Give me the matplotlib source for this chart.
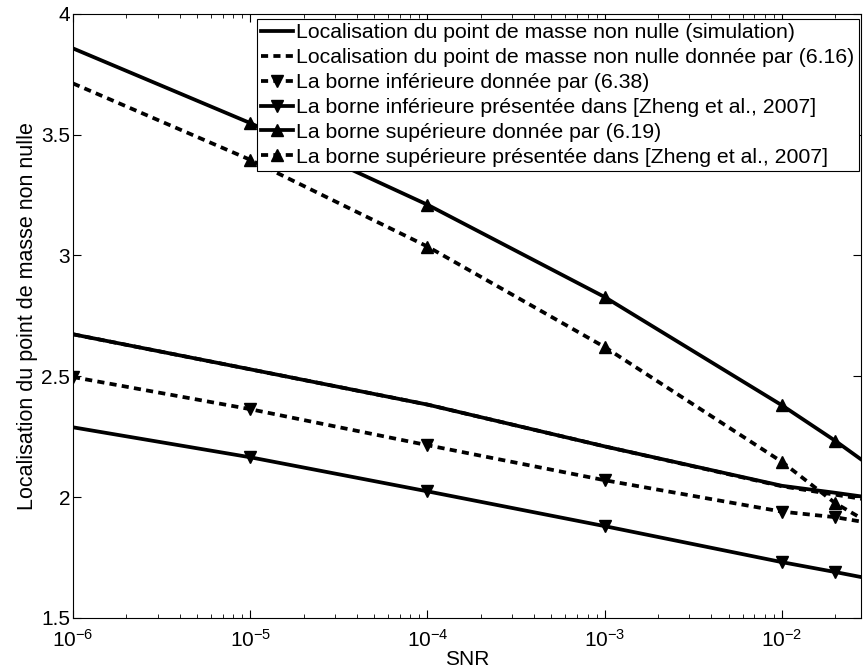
import matplotlib
matplotlib.use("Agg")
import numpy as np
import matplotlib.pyplot as plt

plt.rcParams['font.family'] = ['Liberation Sans', 'DejaVu Sans']

# ---- data ----
snr = [1e-6, 1e-5, 1e-4, 1e-3, 1e-2, 2e-2, 3e-2]
simulation = [2.674, 2.529, 2.383, 2.21, 2.047, 2.018, 2.0]
eq_616 = [2.674, 2.529, 2.383, 2.21, 2.045, 2.010, 1.99]
lower_638 = [2.497, 2.364, 2.215, 2.07, 1.94, 1.917, 1.895]
lower_zheng = [2.289, 2.165, 2.024, 1.88, 1.731, 1.69, 1.665]
upper_619 = [3.857, 3.548, 3.21, 2.828, 2.38, 2.233, 2.14]
upper_zheng = [3.712, 3.396, 3.037, 2.621, 2.146, 1.975, 1.90]

labels = ["Localisation du point de masse non nulle (simulation)",
          "Localisation du point de masse non nulle donnée par (6.16)",
          "La borne inférieure donnée par (6.38)",
          "La borne inférieure présentée dans [Zheng et al., 2007]",
          "La borne supérieure donnée par (6.19)",
          "La borne supérieure présentée dans [Zheng et al., 2007]"]

fig = plt.figure(figsize=(8.63, 6.72), dpi=100)
ax = fig.add_axes([0.0846, 0.0804, 0.913, 0.899])

lw = 2.7
ms = 9
dash = (1.9, 1.4)
ax.plot(snr, simulation, "-", color="black", lw=lw, label=labels[0])
ax.plot(snr, eq_616, "--", color="black", lw=lw, dashes=dash, label=labels[1])
ax.plot(snr, lower_638, "--", color="black", lw=lw, dashes=dash,
        marker="v", ms=ms, markevery=[0, 1, 2, 3, 4, 5], label=labels[2])
ax.plot(snr, lower_zheng, "-", color="black", lw=lw,
        marker="v", ms=ms, markevery=[1, 2, 3, 4, 5], label=labels[3])
ax.plot(snr, upper_619, "-", color="black", lw=lw,
        marker="^", ms=ms, markevery=[1, 2, 3, 4, 5], label=labels[4])
ax.plot(snr, upper_zheng, "--", color="black", lw=lw, dashes=dash,
        marker="^", ms=ms, markevery=[1, 2, 3, 4, 5], label=labels[5])

ax.set_xscale("log")
ax.set_xlim(1e-6, 0.0279)
ax.set_ylim(1.5, 4)
ax.set_yticks([1.5, 2, 2.5, 3, 3.5, 4])
ax.set_yticklabels(["1.5", "2", "2.5", "3", "3.5", "4"])
ax.tick_params(which="both", direction="in", top=True, right=True, labelsize=15)
ax.tick_params(axis="y", pad=2)
ax.tick_params(axis="x", pad=8)
ax.tick_params(which="major", length=6)
ax.tick_params(which="minor", length=3)
for s in ax.spines.values():
    s.set_linewidth(0.8)
ax.set_xlabel("SNR", fontsize=15, labelpad=-1)
ax.set_ylabel("Localisation du point de masse non nulle", fontsize=15.5, labelpad=2)

leg = ax.legend(loc="upper right", bbox_to_anchor=(0.9975, 0.9917), fontsize=15.3,
                handlelength=1.5, handletextpad=0.15, borderpad=0.2, labelspacing=0.28,
                borderaxespad=0, fancybox=False, framealpha=1, edgecolor="black")
leg.get_frame().set_linewidth(0.8)

fig.savefig("out.png", dpi=100)
